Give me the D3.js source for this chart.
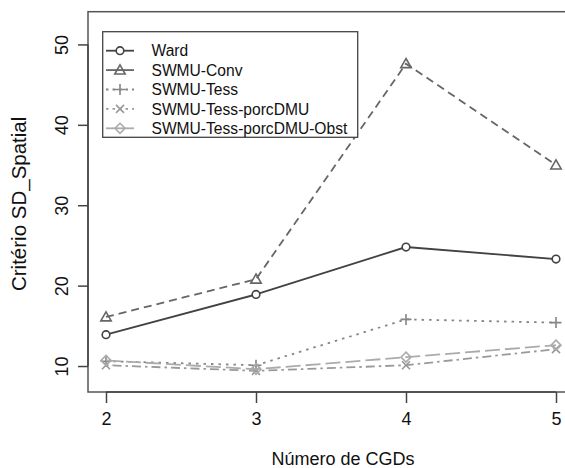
<!DOCTYPE html>
<html>
<head>
<meta charset="utf-8">
<script src="https://cdn.jsdelivr.net/npm/d3@7"></script>
<style>
  html, body { margin: 0; padding: 0; background: #fff; }
  svg { display: block; font-family: "Liberation Sans", Arial, Helvetica, sans-serif; }
</style>
</head>
<body>
<svg id="chart" width="565" height="468"></svg>
<script>
// Number of CGDs on the x axis
const categories = [2, 3, 4, 5];

// SD_Spatial criterion for each method
const ward           = [13.9, 18.9, 24.8, 23.3];
const swmuConv       = [16.1, 20.8, 47.6, 35.0];
const swmuTess       = [10.6, 10.1, 15.8, 15.4];
const swmuTessDMU    = [10.1, 9.4, 10.1, 12.1];
const swmuTessDMUObs = [10.7, 9.6, 11.1, 12.6];

const seriesNames = ["Ward", "SWMU-Conv", "SWMU-Tess", "SWMU-Tess-porcDMU", "SWMU-Tess-porcDMU-Obst"];
const yTicks = [10, 20, 30, 40, 50];

const seriesValues = [ward, swmuConv, swmuTess, swmuTessDMU, swmuTessDMUObs];
const styles = [
  { color: "#424242", dash: null,          legendDash: null,   shape: "circle" },
  { color: "#666666", dash: "8,5",         legendDash: null,   shape: "triangle" },
  { color: "#858585", dash: "2.5,5",       legendDash: "2.5,4", shape: "plus" },
  { color: "#999999", dash: "2.5,4,9,4",   legendDash: "2.5,4", shape: "cross" },
  { color: "#ababab", dash: "15,5",        legendDash: null,   shape: "diamond" }
];

const svg = d3.select("#chart");
const box = { left: 88, right: 574, top: 11.7, bottom: 392 };

const x = d3.scaleLinear().domain([1.88, 5.12]).range([box.left, box.right]);
const y = d3.scaleLinear().domain([6.77, 54.07]).range([box.bottom, box.top]);

// marker drawing
function marker(g, shape, cx, cy, color) {
  const sw = 1.6;
  if (shape === "circle") {
    g.append("circle").attr("cx", cx).attr("cy", cy).attr("r", 3.8)
      .attr("fill", "#fff").attr("stroke", color).attr("stroke-width", sw);
  } else if (shape === "triangle") {
    const s = 5.2;
    g.append("path")
      .attr("d", `M${cx},${cy - s}L${cx + s},${cy + s * 0.75}L${cx - s},${cy + s * 0.75}Z`)
      .attr("fill", "none").attr("stroke", color).attr("stroke-width", sw);
  } else if (shape === "plus") {
    const s = 5.5;
    g.append("path")
      .attr("d", `M${cx - s},${cy}H${cx + s}M${cx},${cy - s}V${cy + s}`)
      .attr("fill", "none").attr("stroke", color).attr("stroke-width", sw);
  } else if (shape === "cross") {
    const s = 4;
    g.append("path")
      .attr("d", `M${cx - s},${cy - s}L${cx + s},${cy + s}M${cx - s},${cy + s}L${cx + s},${cy - s}`)
      .attr("fill", "none").attr("stroke", color).attr("stroke-width", sw);
  } else if (shape === "diamond") {
    const s = 5;
    g.append("path")
      .attr("d", `M${cx},${cy - s}L${cx + s},${cy}L${cx},${cy + s}L${cx - s},${cy}Z`)
      .attr("fill", "none").attr("stroke", color).attr("stroke-width", sw);
  }
}

// series lines and points
const line = d3.line().x((d, i) => x(categories[i])).y(d => y(d));
seriesValues.forEach((vals, k) => {
  const st = styles[k];
  const g = svg.append("g");
  g.append("path").datum(vals)
    .attr("d", line)
    .attr("fill", "none")
    .attr("stroke", st.color)
    .attr("stroke-width", 1.8)
    .attr("stroke-dasharray", st.dash);
  vals.forEach((v, i) => marker(g, st.shape, x(categories[i]), y(v), st.color));
});

// plot frame
svg.append("rect")
  .attr("x", box.left).attr("y", box.top)
  .attr("width", box.right - box.left).attr("height", box.bottom - box.top)
  .attr("fill", "none").attr("stroke", "#555").attr("stroke-width", 1.5);

// x axis
const xAxis = d3.axisBottom(x).tickValues(categories).tickSize(11).tickPadding(9).tickFormat(d3.format("d"));
const gx = svg.append("g").attr("transform", `translate(0,${box.bottom})`).call(xAxis);
gx.select(".domain").attr("d", `M${x(categories[0])},0H${x(categories[categories.length - 1])}`)
  .attr("stroke", "#444").attr("stroke-width", 1.5);
gx.selectAll(".tick line").attr("stroke", "#444").attr("stroke-width", 1.5);
gx.selectAll(".tick text").attr("font-size", 18).attr("fill", "#111")
  .attr("font-family", "Liberation Sans, Arial, sans-serif");

// y axis with rotated labels
const yAxis = d3.axisLeft(y).tickValues(yTicks).tickSize(10).tickFormat(d3.format("d"));
const gy = svg.append("g").attr("transform", `translate(${box.left},0)`).call(yAxis);
gy.select(".domain").attr("d", `M0,${y(yTicks[0])}V${y(yTicks[yTicks.length - 1])}`)
  .attr("stroke", "#444").attr("stroke-width", 1.5);
gy.selectAll(".tick line").attr("stroke", "#444").attr("stroke-width", 1.5);
gy.selectAll(".tick text")
  .attr("font-size", 18).attr("fill", "#111")
  .attr("font-family", "Liberation Sans, Arial, sans-serif")
  .attr("x", null).attr("dy", null)
  .attr("text-anchor", "middle")
  .attr("transform", "translate(-20,0) rotate(-90)");

// axis titles
svg.append("text")
  .attr("x", (x(2) + x(5)) / 2 + 12).attr("y", 465)
  .attr("text-anchor", "middle").attr("font-size", 18).attr("fill", "#111")
  .text("Número de CGDs");
svg.append("text")
  .attr("transform", `translate(26,${(box.top + box.bottom) / 2 + 2}) rotate(-90)`)
  .attr("text-anchor", "middle").attr("font-size", 20.5).attr("fill", "#111")
  .text("Critério SD_Spatial");

// legend
const leg = svg.append("g");
leg.append("rect")
  .attr("x", 102.7).attr("y", 31.7).attr("width", 255).attr("height", 105.6)
  .attr("fill", "#fff").attr("stroke", "#444").attr("stroke-width", 1.3);
seriesNames.forEach((name, k) => {
  const st = styles[k];
  const ly = 50.7 + k * 19.4;
  leg.append("line")
    .attr("x1", 106).attr("x2", 134).attr("y1", ly).attr("y2", ly)
    .attr("stroke", st.color).attr("stroke-width", 1.8)
    .attr("stroke-dasharray", st.legendDash);
  marker(leg, st.shape, 120, ly, st.color);
  leg.append("text")
    .attr("x", 151.5).attr("y", ly).attr("dy", "0.36em")
    .attr("font-size", 15.6).attr("fill", "#111")
    .text(name);
});
</script>
</body>
</html>
